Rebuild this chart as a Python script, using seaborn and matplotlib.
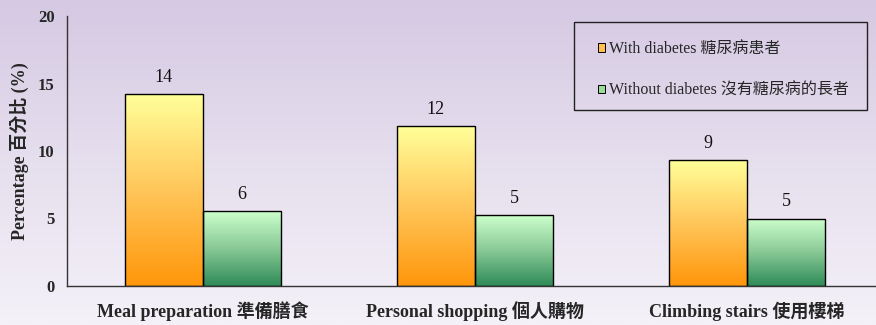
import numpy as np
import pandas as pd
import matplotlib
matplotlib.use("Agg")
import matplotlib.pyplot as plt
from matplotlib.colors import LinearSegmentedColormap
from matplotlib.patches import Patch, Rectangle
import seaborn as sns

# Data
categories = ["Meal preparation 準備膳食", "Personal shopping 個人購物", "Climbing stairs 使用樓梯"]
groups = ["With diabetes 糖尿病患者", "Without diabetes 沒有糖尿病的長者"]
with_diabetes = [14.2, 11.85, 9.3]
without_diabetes = [5.55, 5.25, 5.0]
y_ticks = [0, 5, 10, 15, 20]

df = pd.DataFrame({
    "activity": categories * 2,
    "group": [groups[0]] * 3 + [groups[1]] * 3,
    "pct": with_diabetes + without_diabetes,
})

sns.set_theme(style="white")
serif = ["Liberation Serif", "Noto Sans CJK TC"]
plt.rcParams["font.family"] = serif

W, H = 876, 325
fig = plt.figure(figsize=(W / 100, H / 100), dpi=100)

# lavender backdrop fading towards the bottom
bg = fig.add_axes([0, 0, 1, 1], zorder=-10)
bg_cmap = LinearSegmentedColormap.from_list("bg", ["#d5c9e3", "#e6dfee", "#f4f1f8"])
bg.imshow(np.linspace(0, 1, 256).reshape(-1, 1), cmap=bg_cmap, aspect="auto",
          extent=[0, 1, 0, 1], origin="upper")
bg.axis("off")

x0, x1, ytop, ybot = 67, 883, 16, 286
ax = fig.add_axes([x0 / W, (H - ybot) / H, (x1 - x0) / W, (ybot - ytop) / H])
ax.patch.set_alpha(0)

sns.barplot(data=df, x="activity", y="pct", hue="group", hue_order=groups,
            order=categories, palette=["#ffc04d", "#88d19a"], width=0.574,
            edgecolor="black", linewidth=1.0, legend=False, ax=ax)

grad_maps = {
    groups[0]: LinearSegmentedColormap.from_list("warm", ["#ff960a", "#ffc65a", "#ffff99"]),
    groups[1]: LinearSegmentedColormap.from_list("cool", ["#2e8b57", "#88c996", "#ccffcc"]),
}

# gradient fills clipped to each bar, plus value labels
for container, grp in zip(ax.containers, groups):
    for bar, val in zip(container.patches, container.datavalues):
        bx, by = bar.get_x(), bar.get_y()
        bw, bh = bar.get_width(), bar.get_height()
        img = ax.imshow(np.linspace(0, 1, 256).reshape(-1, 1), cmap=grad_maps[grp],
                        aspect="auto", origin="lower",
                        extent=[bx, bx + bw, by, by + bh], zorder=bar.get_zorder() - 0.1)
        img.set_clip_path(bar)
        bar.set_facecolor("none")
        ax.annotate(f"{val:.0f}", (bx + bw / 2, by + bh), xytext=(0, 9),
                    textcoords="offset points", ha="center", va="baseline",
                    fontsize=13, color="#111111")
ax.set_xlim(-0.5, 2.5)
ax.set_ylim(0, 20)

ax.set_yticks(y_ticks)
ax.set_yticklabels([str(t) for t in y_ticks], fontweight="bold", fontsize=12)
ax.set_xticks(range(len(categories)))
ax.set_xticklabels(categories, fontweight="bold", fontsize=13)
ax.set_xticks([0.5, 1.5], minor=True)
ax.tick_params(axis="x", which="major", length=0, pad=11)
ax.tick_params(axis="x", which="minor", length=8, direction="inout", width=0.8, color="#333333")
ax.tick_params(axis="y", length=8, direction="inout", width=0.8, color="#333333", pad=5)
ax.set_xlabel("")
ax.set_ylabel("Percentage 百分比 (%)", fontweight="bold", fontsize=13, labelpad=6)

for side in ("top", "right"):
    ax.spines[side].set_visible(False)
for side in ("left", "bottom"):
    ax.spines[side].set_color("#333333")
    ax.spines[side].set_linewidth(1.0)

# legend entries inside a fixed box
handles = [Patch(facecolor="#ffc04d", edgecolor="black", linewidth=0.7),
           Patch(facecolor="#99dd99", edgecolor="black", linewidth=0.7)]
leg = fig.legend(handles, groups, loc="upper left",
                 bbox_to_anchor=(598 / W, 1 - 41 / H), frameon=False,
                 prop={"family": serif, "size": 11.5}, handlelength=0.45, handleheight=0.45,
                 handletextpad=0.25, labelspacing=1.6, borderpad=0, borderaxespad=0)
fig.patches.append(Rectangle((574 / W, 1 - 110 / H), (867 - 574) / W, (110 - 22) / H,
                             transform=fig.transFigure, fill=False,
                             edgecolor="#222222", linewidth=1.0))

fig.savefig("out.png", dpi=100)
